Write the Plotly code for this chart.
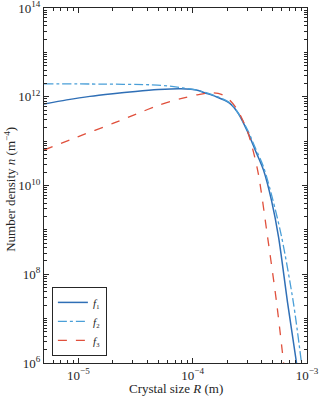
import plotly.graph_objects as go

# values (log-log)
r_f1 = [5.0e-6, 7.9e-6, 1.26e-5, 2.0e-5, 3.16e-5, 5.0e-5, 7.9e-5, 1.12e-4, 1.27e-4, 1.58e-4,
        2.1e-4, 2.51e-4, 3.03e-4, 3.55e-4, 4.17e-4, 4.9e-4, 5.64e-4, 6.76e-4, 8.1e-4]
n_f1 = [6.9e11, 8.5e11, 1.02e12, 1.17e12, 1.32e12, 1.45e12, 1.51e12, 1.38e12, 1.23e12, 1.02e12,
        7.2e11, 4.2e11, 1.6e11, 6.0e10, 2.2e10, 4.5e9, 6.9e8, 2.3e7, 1.0e6]

r_f2 = [5.0e-6, 1.58e-5, 4.2e-5, 6.3e-5, 8.2e-5, 1.12e-4, 1.58e-4, 2.1e-4, 2.51e-4, 3.03e-4,
        3.55e-4, 4.17e-4, 5.0e-4, 6.0e-4, 7.6e-4, 8.95e-4]
n_f2 = [1.95e12, 1.93e12, 1.86e12, 1.74e12, 1.58e12, 1.38e12, 1.05e12, 7.4e11, 4.2e11, 1.75e11,
        6.8e10, 2.6e10, 5.0e9, 6.9e8, 2.3e7, 1.0e6]

r_f3 = [5.0e-6, 1.0e-5, 2.0e-5, 3.16e-5, 5.15e-5, 8.2e-5, 1.12e-4, 1.43e-4, 1.78e-4, 2.1e-4,
        2.47e-4, 3.03e-4, 3.7e-4, 4.52e-4, 5.42e-4, 6.24e-4]
n_f3 = [6.3e10, 1.27e11, 2.5e11, 4.0e11, 6.6e11, 9.3e11, 1.12e12, 1.23e12, 1.13e12, 8.5e11,
        5.0e11, 1.6e11, 2.2e10, 6.9e8, 2.3e7, 1.0e6]

x_ticks = [1e-5, 1e-4, 1e-3]
x_labels = ["10<sup>−5</sup>", "10<sup>−4</sup>", "10<sup>−3</sup>"]
y_ticks = [1e6, 1e8, 1e10, 1e12, 1e14]
y_labels = ["10<sup>6</sup>", "10<sup>8</sup>", "10<sup>10</sup>", "10<sup>12</sup>", "10<sup>14</sup>"]

serif = "Liberation Serif, DejaVu Serif, serif"
axis_col = "#262626"

fig = go.Figure()
fig.add_trace(go.Scatter(x=r_f1, y=n_f1, mode="lines", name="<i>f</i>₁",
                         line=dict(color="#2f6fb6", width=1.5, shape="spline", smoothing=0.8)))
fig.add_trace(go.Scatter(x=r_f2, y=n_f2, mode="lines", name="<i>f</i>₂",
                         line=dict(color="#4a9fd8", width=1.3, dash="dashdot", shape="spline", smoothing=0.8)))
fig.add_trace(go.Scatter(x=r_f3, y=n_f3, mode="lines", name="<i>f</i>₃",
                         line=dict(color="#e0503c", width=1.3, dash="dash", shape="spline", smoothing=0.8)))

axis_style = dict(
    showline=True, linecolor=axis_col, linewidth=1, mirror="ticks",
    ticks="inside", ticklen=5, tickcolor=axis_col, showgrid=False, zeroline=False,
    automargin=False, ticklabeloverflow="allow",
    tickfont=dict(family=serif, size=13, color=axis_col),
    minor=dict(ticks="inside", ticklen=3, tickcolor=axis_col, dtick="D1", showgrid=False),
)

fig.update_xaxes(type="log", range=[-5.301, -2.99999], tickvals=x_ticks, ticktext=x_labels, **axis_style)
fig.update_yaxes(type="log", range=[5.99999, 14.00001], tickvals=y_ticks, ticktext=y_labels, **axis_style)

title_font = dict(family=serif, size=13, color=axis_col)
fig.add_annotation(text="Crystal size <i>R</i> (m)", xref="paper", yref="paper",
                   x=0.5, y=-0.073, yanchor="middle", showarrow=False, font=title_font)
fig.add_annotation(text="Number density <i>n</i> (m<sup>−4</sup>)", xref="paper", yref="paper",
                   x=-0.13, y=0.49, textangle=-90, xanchor="center", showarrow=False, font=title_font)

fig.update_layout(
    width=320, height=400,
    margin=dict(l=44, r=13, t=8, b=37),
    paper_bgcolor="white", plot_bgcolor="white",
    font=dict(family=serif, color=axis_col),
    showlegend=True,
    legend=dict(x=0.03, y=0.02, xanchor="left", yanchor="bottom",
                bordercolor=axis_col, borderwidth=1, bgcolor="white",
                font=dict(family=serif, size=11), itemwidth=30, tracegroupgap=0),
)

# drop the browser's default body margin so the figure sits at the page corner
fig.write_html("out.html", config={"displayModeBar": False},
               post_script="document.body.style.margin='0';")
